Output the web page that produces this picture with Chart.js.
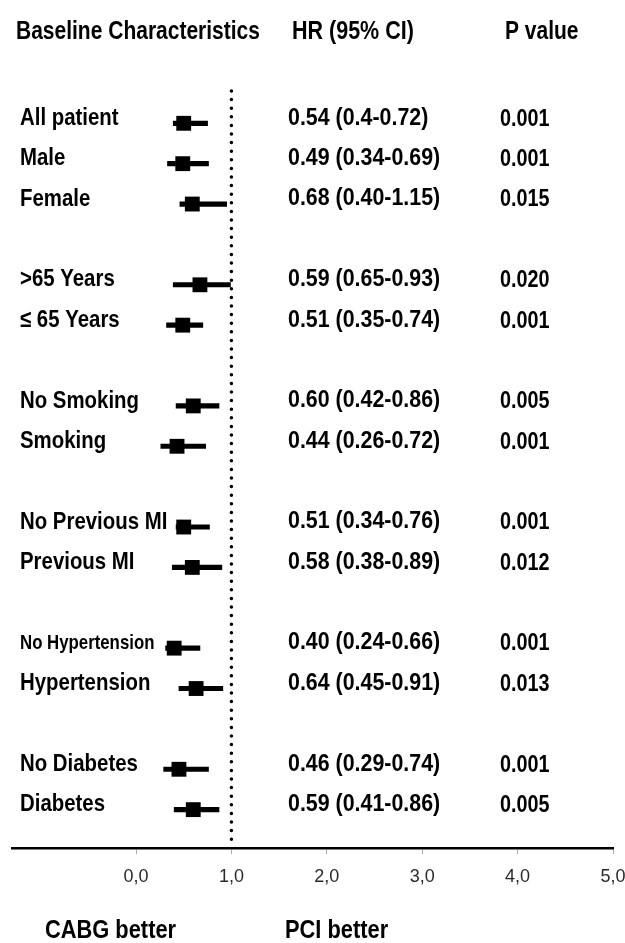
<!DOCTYPE html>
<html>
<head>
<meta charset="utf-8">
<script src="https://cdn.jsdelivr.net/npm/chart.js@4.4.1/dist/chart.umd.min.js"></script>
<style>
  html, body { margin: 0; padding: 0; background: #fff; }
</style>
</head>
<body>
<canvas id="forestChart" width="625" height="943"></canvas>
<script>
// rows of the forest plot (row index leaves gaps between groups)
const labels = ['All patient', 'Male', 'Female', '>65 Years', '\u2264 65 Years', 'No Smoking', 'Smoking',
  'No Previous MI', 'Previous MI', 'No Hypertension', 'Hypertension', 'No Diabetes', 'Diabetes'];
const rows = [0, 1, 2, 4, 5, 7, 8, 10, 11, 13, 14, 16, 17];

// marker and whisker positions as drawn in the figure
const hr = [0.50, 0.49, 0.59, 0.67, 0.49, 0.60, 0.43, 0.50, 0.59, 0.40, 0.63, 0.45, 0.60];
const ciLow = [0.39, 0.33, 0.46, 0.39, 0.32, 0.42, 0.26, 0.42, 0.38, 0.31, 0.45, 0.29, 0.40];
const ciHigh = [0.75, 0.76, 0.95, 0.99, 0.70, 0.87, 0.73, 0.77, 0.90, 0.67, 0.91, 0.76, 0.87];

const hrText = ['0.54 (0.4-0.72)', '0.49 (0.34-0.69)', '0.68 (0.40-1.15)', '0.59 (0.65-0.93)', '0.51 (0.35-0.74)',
  '0.60 (0.42-0.86)', '0.44 (0.26-0.72)', '0.51 (0.34-0.76)', '0.58 (0.38-0.89)', '0.40 (0.24-0.66)',
  '0.64 (0.45-0.91)', '0.46 (0.29-0.74)', '0.59 (0.41-0.86)'];
const pValues = ['0.001', '0.001', '0.015', '0.020', '0.001', '0.005', '0.001', '0.001', '0.012', '0.001',
  '0.013', '0.001', '0.005'];

const tickValues = [0, 1, 2, 3, 4, 5];
const tickLabels = ['0,0', '1,0', '2,0', '3,0', '4,0', '5,0'];
const refValue = 1;

const FONT = '"Liberation Sans", Arial, sans-serif';

// the figure uses a condensed face, so squeeze the text horizontally
function narrowText(ctx, text, x, y, sx) {
  ctx.save();
  ctx.translate(x, y);
  ctx.scale(sx, 1);
  ctx.fillText(text, 0, 0);
  ctx.restore();
}

const forestText = {
  id: 'forestText',
  beforeDatasetsDraw(chart) {
    const ctx = chart.ctx;
    const x = chart.scales.x.getPixelForValue(refValue);
    const area = chart.chartArea;
    ctx.save();
    ctx.strokeStyle = '#000';
    ctx.lineWidth = 3.5;
    ctx.lineCap = 'round';
    ctx.setLineDash([0, 8.6]);
    ctx.beginPath();
    ctx.moveTo(x, area.top);
    ctx.lineTo(x, area.bottom - 4);
    ctx.stroke();
    ctx.restore();
  },
  afterDraw(chart) {
    const ctx = chart.ctx;
    const yScale = chart.scales.y;
    ctx.save();
    ctx.fillStyle = '#000';
    ctx.textBaseline = 'middle';
    ctx.textAlign = 'left';

    ctx.font = 'bold 25px ' + FONT;
    narrowText(ctx, 'Baseline Characteristics', 16, 32, 0.84);
    narrowText(ctx, 'HR (95% CI)', 292, 32, 0.86);
    narrowText(ctx, 'P value', 505, 32, 0.84);

    rows.forEach((r, i) => {
      const y = yScale.getPixelForValue(r) - 5;
      if (labels[i] === 'No Hypertension') {
        ctx.font = 'bold 21px ' + FONT;
        narrowText(ctx, labels[i], 20, y, 0.8);
      } else {
        ctx.font = 'bold 24px ' + FONT;
        narrowText(ctx, labels[i], 20, y, 0.85);
      }
      ctx.font = 'bold 23px ' + FONT;
      narrowText(ctx, hrText[i], 288, y, 0.93);
      narrowText(ctx, pValues[i], 500, y + 1, 0.86);
    });

    ctx.font = 'bold 26px ' + FONT;
    narrowText(ctx, 'CABG better', 45, 931, 0.84);
    narrowText(ctx, 'PCI better', 285, 931, 0.84);
    ctx.restore();
  }
};

new Chart(document.getElementById('forestChart'), {
  type: 'bar',
  data: {
    datasets: [{
      type: 'bar',
      indexAxis: 'y',
      data: rows.map((r, i) => ({ x: [ciLow[i], ciHigh[i]], y: r })),
      backgroundColor: '#000',
      borderWidth: 0,
      barThickness: 4.5
    }, {
      type: 'scatter',
      data: rows.map((r, i) => ({ x: hr[i], y: r })),
      pointStyle: 'rect',
      pointRadius: 10.5,
      backgroundColor: '#000',
      borderWidth: 0
    }]
  },
  options: {
    responsive: false,
    animation: false,
    layout: { padding: { left: 12, right: 12, top: 91, bottom: 45 } },
    plugins: { legend: { display: false }, tooltip: { enabled: false } },
    scales: {
      x: {
        type: 'linear',
        min: -1.3,
        max: 5,
        offset: false,
        afterBuildTicks: s => { s.ticks = tickValues.map(v => ({ value: v })); },
        afterFit: s => {
          s.height = 50;
          s.paddingLeft = 0;
          s.paddingRight = 0;
        },
        ticks: {
          callback: v => tickLabels[tickValues.indexOf(v)],
          color: '#2a2a2a',
          font: { family: FONT, size: 18 },
          padding: 12,
          maxRotation: 0,
          autoSkip: false
        },
        grid: { offset: false, drawOnChartArea: false, drawTicks: true, tickLength: 6, color: '#aaa' },
        border: { display: true, color: '#000', width: 2.5 }
      },
      y: {
        type: 'linear',
        reverse: true,
        offset: false,
        min: -0.8,
        max: 17.95,
        display: false
      }
    }
  },
  plugins: [forestText]
});
</script>
</body>
</html>
